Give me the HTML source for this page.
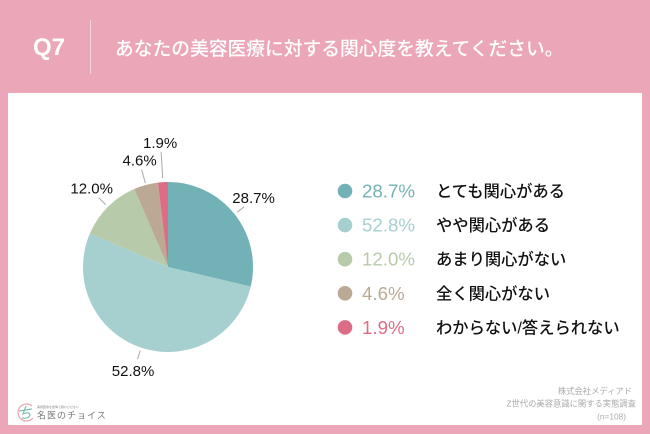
<!DOCTYPE html>
<html><head><meta charset="utf-8">
<style>
html,body{margin:0;padding:0}
body{width:650px;height:434px;position:relative;overflow:hidden;background:#eba7b8;font-family:"Liberation Sans","Noto Sans CJK JP",sans-serif}
#panel{position:absolute;left:8px;top:93px;width:634px;height:332px;background:#fff}
#q{position:absolute;left:33px;top:34px;font-size:24px;font-weight:bold;color:#fff;line-height:28px}
#div{position:absolute;left:90px;top:20px;width:1px;height:54px;background:#f5d5dd}
#title{position:absolute;left:115px;top:35px;font-size:18.75px;color:#fff;line-height:28px;white-space:nowrap;font-weight:500}
svg{position:absolute;left:0;top:0}
</style></head><body>
<div id="panel"></div>
<div id="q">Q7</div>
<div id="div"></div>
<div id="title">あなたの美容医療に対する関心度を教えてください。</div>
<svg id="chart" width="650" height="434" viewBox="0 0 650 434"></svg>
<script>
const categories=["とても関心がある","やや関心がある","あまり関心がない","全く関心がない","わからない/答えられない"];
const values=[28.7,52.8,12.0,4.6,1.9];
const valueLabels=["28.7%","52.8%","12.0%","4.6%","1.9%"];
const notes=["株式会社メディアド","Z世代の美容意識に関する実態調査","(n=108)"];
const colors=["#72b2b6","#a6cfd0","#b7cbaa","#bba994","#dd6d85"];
const leaderStart=[3,3,3,2,4];
const leaderEnd=[12,12,13,16,30];
const labelShiftX=[9.5,-4.4,-7,-2,-1];
const labelShiftY=[-4,17,-4,-4,-4];
const noteRight=[632,636,626];
const noteBase=[394,406.5,419.5];
const NS="http://www.w3.org/2000/svg";
const svg=document.getElementById('chart');
const cx=168,cy=267,r=85;
const total=values.reduce((a,b)=>a+b,0);
function angleOf(v){return v/total*Math.PI*2;}
function pt(a,d){return [cx+Math.sin(a)*d,cy-Math.cos(a)*d];}
function mk(tag,attrs,text){
  const el=document.createElementNS(NS,tag);
  for(const k in attrs)el.setAttribute(k,attrs[k]);
  if(text!==undefined)el.textContent=text;
  svg.appendChild(el);
  return el;
}
let acc=0;
values.forEach((v,i)=>{
  const a0=angleOf(acc),a1=angleOf(acc+v);acc+=v;
  const p0=pt(a0,r),p1=pt(a1,r),m=(a0+a1)/2;
  const large=(a1-a0)>Math.PI?1:0;
  const s=mk('path',{d:`M${cx} ${cy}L${p0[0]} ${p0[1]}A${r} ${r} 0 ${large} 1 ${p1[0]} ${p1[1]}Z`,fill:colors[i]});
  
  
  const q0=pt(m,r+leaderStart[i]),q1=pt(m,r+leaderEnd[i]);
  const l=mk('line',{x1:q0[0],y1:q0[1],x2:q1[0],y2:q1[1],stroke:'#aaa','stroke-width':1});
  
  
  const t=mk('text',{x:q1[0]+labelShiftX[i],y:q1[1]+labelShiftY[i],'text-anchor':'middle','font-size':15,fill:'#111'},valueLabels[i]);
  
  
  const y=191+i*34.1;
  const d=mk('circle',{cx:345,cy:y,r:7.3,fill:colors[i]});
  
  
  const lv=mk('text',{x:362,y:y+6.5,'font-size':18.7,fill:colors[i]},valueLabels[i]);
  
  
  const lc=mk('text',{x:436,y:y+6,'font-size':16.3,fill:'#111','font-weight':500},categories[i]);
  
  
});
notes.forEach((n,i)=>{
  const t=mk('text',{x:noteRight[i],y:noteBase[i],'text-anchor':'end','font-size':8.3,fill:'#aaa'},n);
  
  
});
const lg=mk('path',{d:'M32 406A8.5 8.5 0 1 0 33 418',fill:'none',stroke:'#e5a5ad','stroke-width':1.2});


const lg2=mk('path',{d:'M19 411L32 409M26 406L23 414Q29 411 30 415Q29 419 22 418',fill:'none',stroke:'#7fc0b0','stroke-width':1.2});


const ls=mk('text',{x:37,y:408,'font-size':3,fill:'#888'},"美容医療を後悔で終わらせない");


const lt=mk('text',{x:37,y:418.5,'font-size':9,fill:'#777','letter-spacing':'1px'},"名医のチョイス");


</script>
</body></html>
